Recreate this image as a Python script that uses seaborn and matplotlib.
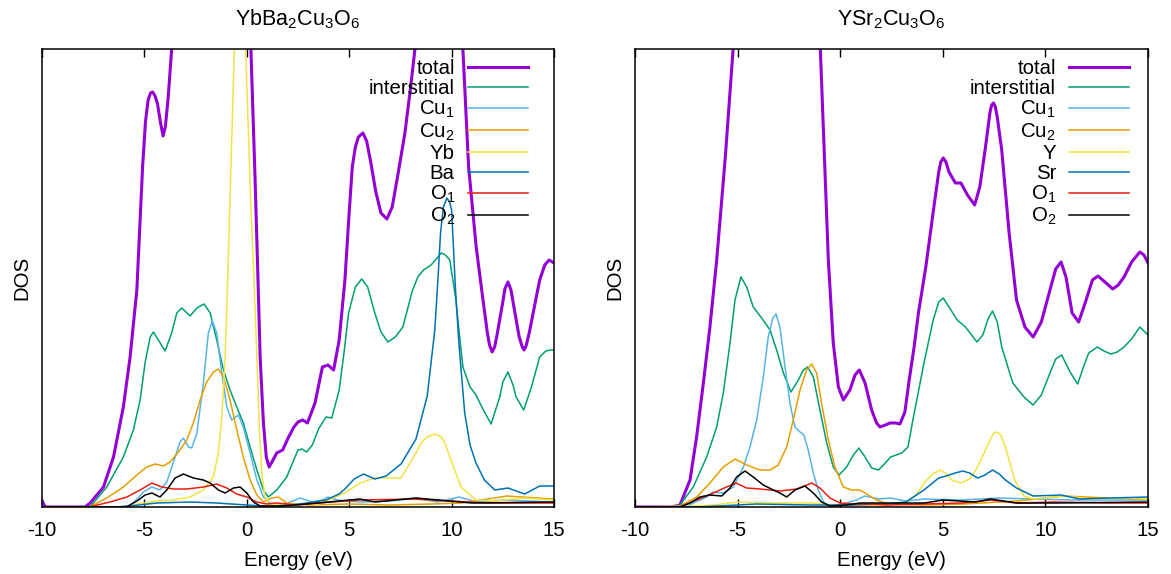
import pandas as pd
import matplotlib
matplotlib.use("Agg")
import matplotlib.pyplot as plt
import seaborn as sns

# ---- left panel: YbBa2Cu3O6 (energy in eV, DOS in arbitrary units) ----
yb_total_e = [-10, -9.85, -7.9, -7.65, -7.0, -6.51, -6.03, -5.7, -5.37, -5.09, -4.95, -4.82, -4.7, -4.6, -4.48,
              -4.36, -4.22, -4.09, -3.98, -3.85, -3.75, -3.67, -3.0, -2.0, -1.0, -0.2, 0.2, 0.4, 0.56, 0.65, 0.81,
              0.95, 1.09, 1.25, 1.46, 1.75, 2.04, 2.3, 2.5, 2.73, 2.96, 3.33, 3.69, 3.96, 4.24, 4.51, 4.79, 5.0,
              5.15, 5.3, 5.45, 5.67, 5.85, 6.05, 6.3, 6.55, 6.84, 7.1, 7.4, 7.72, 8.0, 8.21, 9.3, 10.55, 10.83,
              11.2, 11.47, 11.74, 11.85, 11.98, 12.1, 12.2, 12.5, 12.6, 12.75, 12.9, 13.0, 13.3, 13.45, 13.54,
              13.65, 13.8, 14.3, 14.55, 14.76, 15.0]
yb_total_d = [0.06, 0.0, 0.0, 0.04, 0.20, 0.50, 1.00, 1.50, 2.17, 3.40, 3.85, 4.07, 4.14, 4.15, 4.11,
              4.03, 3.85, 3.71, 3.80, 4.07, 4.35, 4.58, 6.5, 8.0, 8.0, 6.5, 4.58, 3.30, 2.17, 1.50, 0.84,
              0.50, 0.40, 0.46, 0.54, 0.57, 0.70, 0.80, 0.85, 0.87, 0.84, 1.04, 1.40, 1.42, 1.37, 1.67, 2.27, 2.95,
              3.40, 3.60, 3.70, 3.74, 3.66, 3.45, 3.15, 2.94, 2.88, 3.00, 3.35, 3.74, 4.20, 4.58, 6.5, 4.58, 3.40,
              2.60, 2.17, 1.75, 1.62, 1.55, 1.60, 1.70, 2.05, 2.18, 2.25, 2.17, 2.05, 1.70, 1.60, 1.57,
              1.62, 1.75, 2.27, 2.42, 2.47, 2.44]

yb_inter_e = [-10, -7.9, -7.65, -6.84, -6.03, -5.54, -5.21, -4.97, -4.72, -4.56, -4.32, -3.99, -3.67, -3.42, -3.18,
              -2.77, -2.44, -2.09, -1.79, -1.47, -1.14, -0.82, -0.49, -0.17, 0.16, 0.49, 0.81, 1.05, 1.46, 1.95, 2.25,
              2.5, 2.7, 2.92, 3.2, 3.5, 3.87, 4.15, 4.51, 4.75, 4.97, 5.3, 5.61, 5.9, 6.25, 6.55, 6.89, 7.25, 7.62,
              8.08, 8.35, 8.63, 9.0, 9.25, 9.49, 9.7, 9.91, 10.19, 10.55, 10.9, 11.19, 11.55, 11.93, 12.35, 12.5,
              12.75, 13.0, 13.15, 13.52, 13.9, 14.3, 14.6, 14.85, 15.0]
yb_inter_d = [0, 0, 0.003, 0.20, 0.50, 0.77, 1.07, 1.44, 1.70, 1.75, 1.67, 1.56, 1.74, 1.94, 1.99,
              1.91, 1.99, 2.03, 1.94, 1.67, 1.37, 1.17, 1.00, 0.84, 0.60, 0.37, 0.17, 0.10, 0.17, 0.30, 0.45,
              0.57, 0.58, 0.55, 0.62, 0.78, 0.90, 0.89, 1.17, 1.55, 1.94, 2.20, 2.28, 2.20, 1.94, 1.75, 1.65, 1.70, 1.80,
              2.16, 2.30, 2.37, 2.42, 2.48, 2.54, 2.52, 2.47, 2.10, 1.40, 1.20, 1.12, 0.97, 0.83, 1.10, 1.25,
              1.35, 1.22, 1.10, 0.97, 1.20, 1.50, 1.56, 1.57, 1.57]

yb_cu1_e = [-10, -6.0, -5.7, -5.05, -4.64, -4.24, -3.91, -3.50, -3.26, -3.10, -2.85, -2.69, -2.44, -2.12, -1.88,
            -1.68, -1.47, -1.22, -0.98, -0.74, -0.41, -0.17, 0.16, 0.49, 0.81, 1.14, 1.6, 2.0, 2.6, 3.2, 3.69, 3.96,
            4.42, 5.5, 7.0, 8.3, 9.3, 10.37, 11.2, 12.5, 15.0]
yb_cu1_d = [0, 0, 0.003, 0.15, 0.20, 0.17, 0.25, 0.50, 0.65, 0.69, 0.60, 0.59, 0.74, 1.24, 1.74,
            1.86, 1.74, 1.34, 1.00, 0.87, 0.92, 0.80, 0.54, 0.27, 0.10, 0.04, 0.02, 0.04, 0.09, 0.05, 0.07, 0.10,
            0.07, 0.05, 0.06, 0.09, 0.05, 0.10, 0.05, 0.07, 0.05]

yb_cu2_e = [-10, -7.9, -7.65, -6.84, -6.03, -5.37, -4.89, -4.48, -4.07, -3.75, -3.34, -2.93, -2.61, -2.28, -1.96,
            -1.63, -1.39, -1.14, -0.82, -0.49, -0.17, 0.16, 0.49, 0.81, 1.22, 1.54, 1.95, 3.0, 5.0, 7.0, 9.0, 10.5,
            12.7, 15.0]
yb_cu2_d = [0, 0, 0.003, 0.09, 0.20, 0.32, 0.40, 0.43, 0.41, 0.45, 0.55, 0.67, 0.84, 1.07, 1.25,
            1.35, 1.38, 1.30, 1.07, 0.77, 0.50, 0.27, 0.12, 0.05, 0.09, 0.10, 0.04, 0.02, 0.03, 0.02, 0.03, 0.04,
            0.11, 0.08]

yb_yb_e = [-10, -6.5, -6.03, -5.05, -4.4, -3.58, -2.77, -2.12, -1.63, -1.39, -1.22, -1.06, -0.95, -0.61, -0.35,
           -0.06, 0.2, 0.37, 0.49, 0.6, 0.73, 0.89, 1.14, 2.0, 3.5, 4.79, 5.52, 6.25, 7.53, 8.26, 8.5, 8.8, 9.18,
           9.5, 9.7, 9.91, 10.46, 11.19, 12.1, 13.57, 15.0]
yb_yb_d = [0, 0, 0.003, 0.04, 0.06, 0.07, 0.10, 0.17, 0.30, 0.54, 0.90, 1.50, 2.17, 4.58, 7.0,
           4.58, 3.0, 2.17, 1.50, 0.84, 0.34, 0.10, 0.02, 0.03, 0.03, 0.14, 0.24, 0.29, 0.29, 0.54, 0.64, 0.70, 0.73,
           0.70, 0.63, 0.50, 0.20, 0.07, 0.06, 0.09, 0.07]

yb_ba_e = [-10, -6.5, -5.7, -4.4, -2.77, -1.47, 0.0, 1.14, 2.6, 3.87, 4.5, 4.79, 5.24, 5.7, 6.25, 6.8, 7.53, 8.26,
           8.81, 9.18, 9.33, 9.46, 9.6, 9.77, 9.9, 10.0, 10.19, 10.37, 10.64, 10.9, 11.19, 11.6, 12.11, 12.75, 13.57,
           14.3, 15.0]
yb_ba_d = [0, 0, 0.01, 0.04, 0.05, 0.04, 0.02, 0.005, 0.03, 0.07, 0.13, 0.18, 0.28, 0.33, 0.28, 0.31, 0.43, 0.68,
           1.11, 1.77, 2.27, 2.74, 3.00, 3.09, 3.05, 2.97, 2.17, 1.60, 0.94, 0.62, 0.44, 0.27, 0.17, 0.19, 0.13,
           0.21, 0.21]

yb_o1_e = [-10, -7.9, -7.65, -6.68, -5.86, -5.21, -4.64, -4.15, -3.58, -2.93, -2.12, -1.47, -0.98, -0.49, 0.0,
           0.49, 0.97, 1.46, 2.5, 3.4, 5.52, 8.08, 9.9, 11.74, 15.0]
yb_o1_d = [0, 0, 0.003, 0.05, 0.10, 0.17, 0.24, 0.20, 0.18, 0.18, 0.20, 0.23, 0.19, 0.13, 0.10,
           0.05, 0.03, 0.04, 0.02, 0.04, 0.07, 0.08, 0.06, 0.04, 0.04]

yb_o2_e = [-10, -6.2, -5.86, -5.29, -4.97, -4.64, -4.24, -3.91, -3.50, -3.10, -2.61, -2.12, -1.79, -1.39, -1.06,
           -0.65, -0.33, 0.0, 0.32, 0.65, 1.7, 3.5, 5.52, 6.25, 8.26, 9.9, 11.0, 15.0]
yb_o2_d = [0, 0, 0.003, 0.07, 0.12, 0.14, 0.10, 0.17, 0.29, 0.33, 0.29, 0.27, 0.24, 0.17, 0.14,
           0.19, 0.20, 0.14, 0.05, 0.01, 0.01, 0.04, 0.08, 0.05, 0.09, 0.06, 0.04, 0.05]

# ---- right panel: YSr2Cu3O6 ----
ys_total_e = [-10, -8.2, -7.81, -7.32, -7.0, -6.67, -6.35, -6.02, -5.6, -5.22, -4.5, -3.0, -1.5, -0.97, -0.58,
              -0.34, -0.09, 0.15, 0.47, 0.72, 0.93, 1.21, 1.53, 1.77, 1.94, 2.2, 2.42, 2.7, 2.91, 3.15, 3.36, 3.6,
              3.81, 4.17, 4.53, 4.8, 4.9, 5.02, 5.15, 5.3, 5.61, 5.88, 6.2, 6.55, 6.8, 7.06, 7.3, 7.38, 7.47, 7.56,
              7.65, 7.87, 8.23, 8.59, 9.0, 9.4, 9.8, 10.22, 10.5, 10.76, 11.0, 11.3, 11.62, 11.95, 12.29, 12.56,
              12.9, 13.28, 13.55, 13.83, 14.2, 14.6, 14.8, 15.0]
ys_total_d = [0, 0, 0.02, 0.27, 0.70, 1.24, 1.80, 2.47, 3.50, 4.58, 7.0, 9.0, 7.0, 4.58, 2.47,
              1.64, 1.20, 1.07, 1.17, 1.32, 1.37, 1.24, 0.97, 0.84, 0.80, 0.82, 0.84, 0.84, 0.83, 0.95, 1.27, 1.60,
              1.94, 2.40, 2.95, 3.35, 3.45, 3.49, 3.45, 3.35, 3.24, 3.24, 3.12, 3.02, 3.20, 3.57, 3.95, 4.02, 4.04,
              4.00, 3.90, 3.57, 2.74, 2.07, 1.80, 1.70, 1.85, 2.17, 2.38, 2.45, 2.30, 1.94, 1.85, 2.05, 2.27, 2.31,
              2.25, 2.18, 2.22, 2.30, 2.45, 2.55, 2.52, 2.44]

ys_inter_e = [-10, -8.2, -7.81, -7.16, -6.51, -6.02, -5.70, -5.37, -5.13, -4.84, -4.56, -4.24, -3.83, -3.42, -3.10,
              -2.77, -2.40, -2.04, -1.80, -1.59, -1.31, -0.99, -0.66, -0.34, -0.06, 0.31, 0.64, 0.91, 1.21, 1.53,
              1.86, 2.2, 2.45, 3.0, 3.3, 3.54, 4.08, 4.53, 4.8, 5.02, 5.3, 5.7, 6.1, 6.4, 6.66, 6.95, 7.2, 7.42,
              7.65, 7.87, 8.41, 8.95, 9.4, 9.8, 10.22, 10.5, 10.79, 11.2, 11.57, 11.85, 12.11, 12.53, 12.85, 13.19,
              13.5, 13.83, 14.2, 14.6, 15.0]
ys_inter_d = [0, 0, 0.02, 0.20, 0.50, 0.80, 1.14, 1.64, 2.07, 2.30, 2.20, 2.00, 1.89, 1.77, 1.57,
              1.34, 1.15, 1.27, 1.37, 1.40, 1.30, 0.97, 0.64, 0.40, 0.32, 0.40, 0.52, 0.59, 0.50, 0.39,
              0.37, 0.44, 0.50, 0.54, 0.60, 0.87, 1.44, 1.87, 2.05, 2.09, 2.00, 1.87, 1.80, 1.72, 1.65, 1.72, 1.88, 1.96,
              1.85, 1.60, 1.24, 1.10, 1.02, 1.12, 1.34, 1.48, 1.52, 1.35, 1.23, 1.40, 1.54, 1.60, 1.56, 1.53,
              1.55, 1.60, 1.68, 1.80, 1.72]

ys_cu1_e = [-10, -7.5, -7.16, -6.51, -6.19, -5.70, -5.21, -4.72, -4.40, -4.07, -3.75, -3.51, -3.29, -3.13, -2.94,
            -2.69, -2.45, -2.21, -1.96, -1.77, -1.56, -1.31, -1.07, -0.82, -0.50, 0.31, 0.80, 1.19, 1.9, 2.45, 3.2,
            4.08, 5.9, 7.69, 9.4, 11.3, 15.0]
ys_cu1_d = [0, 0, 0.04, 0.10, 0.15, 0.14, 0.20, 0.40, 0.60, 0.87, 1.30, 1.70, 1.89, 1.93, 1.80,
            1.40, 1.04, 0.80, 0.75, 0.72, 0.57, 0.34, 0.17, 0.05, 0.01, 0.04, 0.07, 0.11, 0.08, 0.09, 0.06,
            0.08, 0.07, 0.09, 0.08, 0.07, 0.07]

ys_cu2_e = [-10, -8.2, -7.81, -7.0, -6.35, -5.70, -5.13, -4.56, -3.91, -3.42, -3.02, -2.61, -2.29, -1.96, -1.64,
            -1.39, -1.15, -0.91, -0.58, -0.26, 0.15, 0.56, 0.96, 1.37, 1.77, 2.3, 4.0, 6.0, 8.6, 10.94, 13.0, 15.0]
ys_cu2_d = [0, 0, 0.01, 0.10, 0.24, 0.40, 0.48, 0.42, 0.37, 0.37, 0.42, 0.60, 0.87, 1.17, 1.37,
            1.43, 1.34, 1.04, 0.67, 0.40, 0.20, 0.17, 0.17, 0.12, 0.07, 0.03, 0.02, 0.03, 0.06, 0.11, 0.09, 0.08]

ys_y_e = [-10, -7.0, -6.19, -5.0, -3.0, -1.39, -0.5, 0.5, 2.3, 3.18, 3.7, 4.08, 4.5, 4.89, 5.2, 5.43, 5.88, 6.3,
          6.61, 7.15, 7.4, 7.5, 7.64, 7.78, 7.85, 8.05, 8.5, 8.95, 9.4, 10.94, 12.2, 14.0, 15.0]
ys_y_d = [0, 0.01, 0.02, 0.05, 0.04, 0.04, 0.02, 0.02, 0.02, 0.04, 0.12, 0.24, 0.33, 0.37, 0.33, 0.27, 0.24, 0.28,
          0.37, 0.60, 0.71, 0.74, 0.75, 0.73, 0.71, 0.60, 0.27, 0.11, 0.08, 0.11, 0.08, 0.09, 0.08]

ys_sr_e = [-10, -7.0, -5.0, -4.1, -1.5, 0.5, 2.3, 3.2, 4.08, 4.8, 5.16, 5.6, 5.97, 6.3, 6.7, 7.05, 7.42, 7.75, 8.05,
           8.59, 9.4, 10.76, 11.66, 13.1, 15.0]
ys_sr_d = [0, 0, 0.02, 0.03, 0.02, 0.02, 0.03, 0.05, 0.17, 0.29, 0.31, 0.34, 0.36, 0.34, 0.29, 0.32, 0.37, 0.33, 0.27,
           0.19, 0.11, 0.12, 0.08, 0.09, 0.10]

ys_o1_e = [-10, -7.81, -7.0, -6.19, -5.54, -5.08, -4.56, -3.91, -2.94, -2.12, -1.39, -0.99, -0.50, 0.0, 0.64, 1.37,
           2.3, 4.1, 5.9, 7.33, 8.59, 10.4, 13.1, 15.0]
ys_o1_d = [0, 0.003, 0.07, 0.14, 0.20, 0.24, 0.19, 0.18, 0.16, 0.18, 0.24, 0.19, 0.09, 0.04, 0.03, 0.03,
           0.02, 0.03, 0.04, 0.07, 0.04, 0.05, 0.04, 0.04]

ys_o2_e = [-10, -7.8, -7.32, -6.84, -6.35, -5.78, -5.37, -5.05, -4.64, -4.24, -3.75, -3.26, -2.94, -2.61, -2.21,
           -1.72, -1.31, -0.91, -0.50, 0.31, 0.96, 2.3, 4.1, 5.0, 6.6, 7.33, 8.6, 10.4, 15.0]
ys_o2_d = [0, 0.0, 0.04, 0.10, 0.12, 0.11, 0.19, 0.30, 0.36, 0.30, 0.22, 0.17, 0.14, 0.10, 0.17,
           0.21, 0.14, 0.05, 0.01, 0.02, 0.04, 0.04, 0.04, 0.07, 0.05, 0.08, 0.04, 0.04, 0.05]

# gnuplot default line colours
colors = ['#9400d3', '#009e73', '#56b4e9', '#e69f00', '#f0e442', '#0072b2', '#e51e10', '#000000']
widths = [2.2, 1.1, 1.1, 1.1, 1.1, 1.1, 1.1, 1.1]

panels = [
    ('YbBa$_2$Cu$_3$O$_6$',
     ['total', 'interstitial', 'Cu$_1$', 'Cu$_2$', 'Yb', 'Ba', 'O$_1$', 'O$_2$'],
     [(yb_total_e, yb_total_d), (yb_inter_e, yb_inter_d), (yb_cu1_e, yb_cu1_d), (yb_cu2_e, yb_cu2_d),
      (yb_yb_e, yb_yb_d), (yb_ba_e, yb_ba_d), (yb_o1_e, yb_o1_d), (yb_o2_e, yb_o2_d)],
     [0.0359, 0.1167, 0.4372, 0.798], (0.949, 0.978)),
    ('YSr$_2$Cu$_3$O$_6$',
     ['total', 'interstitial', 'Cu$_1$', 'Cu$_2$', 'Y', 'Sr', 'O$_1$', 'O$_2$'],
     [(ys_total_e, ys_total_d), (ys_inter_e, ys_inter_d), (ys_cu1_e, ys_cu1_d), (ys_cu2_e, ys_cu2_d),
      (ys_y_e, ys_y_d), (ys_sr_e, ys_sr_d), (ys_o1_e, ys_o1_d), (ys_o2_e, ys_o2_d)],
     [0.5423, 0.1167, 0.4381, 0.798], (0.963, 0.978)),
]

plt.rcParams['font.family'] = ['Liberation Sans', 'DejaVu Sans']
plt.rcParams['mathtext.fontset'] = 'custom'
plt.rcParams['mathtext.rm'] = 'Liberation Sans'
plt.rcParams['mathtext.default'] = 'regular'
plt.rcParams['axes.unicode_minus'] = False
plt.rcParams['xtick.direction'] = 'in'
plt.rcParams['xtick.top'] = True
plt.rcParams['xtick.bottom'] = True
plt.rcParams['xtick.major.size'] = 6
plt.rcParams['xtick.major.width'] = 1.0
plt.rcParams['xtick.major.pad'] = 10
plt.rcParams['xtick.color'] = 'black'

fs = 14.7
fig = plt.figure(figsize=(11.71, 5.74), dpi=100)

for title, labels, series, rect, anchor in panels:
    ax = fig.add_axes(rect)
    for (e, d), lab, c, lw in zip(series, labels, colors, widths):
        df = pd.DataFrame({'Energy': e, 'DOS': d})
        sns.lineplot(data=df, x='Energy', y='DOS', color=c, linewidth=lw, label=lab, sort=False, ax=ax)
    ax.set_xlim(-10, 15)
    ax.set_ylim(0, 4.58)
    ax.set_xticks([-10, -5, 0, 5, 10, 15])
    ax.set_yticks([])
    ax.xaxis.set_ticks_position('both')
    ax.tick_params(axis='x', which='major', direction='in', length=6, width=1.0, labelsize=fs)
    for s in ax.spines.values():
        s.set_linewidth(1.1)
        s.set_color('black')
    ax.set_xlabel('Energy (eV)', fontsize=fs, labelpad=8)
    ax.set_ylabel('DOS', fontsize=fs, labelpad=8)
    ax.set_title(title, fontsize=15.5, pad=17)
    ax.legend(loc='upper right', bbox_to_anchor=anchor, frameon=False, markerfirst=False,
              handlelength=2.94, handletextpad=0.64, labelspacing=0.05, borderaxespad=0, borderpad=0,
              fontsize=fs)

fig.savefig('out.png', dpi=100)
plt.close(fig)
